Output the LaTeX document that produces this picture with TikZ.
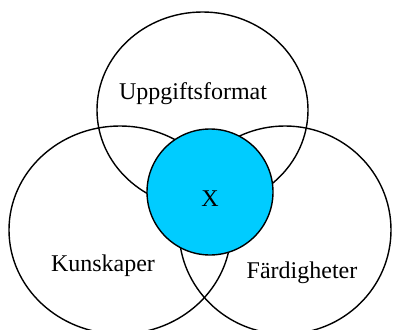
\documentclass[tikz,border=0pt]{standalone}
\usepackage{fontspec}
\setmainfont{Liberation Serif}
\usetikzlibrary{shapes.geometric, positioning}

\begin{document}
\begin{tikzpicture}[x=1pt, y=-1pt, font=\fontsize{24}{28}\selectfont,
    set/.style={draw, ellipse, line width=1.4pt, inner sep=0pt},
    core/.style={draw, circle, line width=1.4pt, fill=kjerne, inner sep=0pt, minimum size=126pt},
    lbl/.style={anchor=base, inner sep=0pt}]
    \definecolor{kjerne}{RGB}{0,204,255}
    \useasboundingbox (0,0) rectangle (393,329);

    \node[set, minimum width=211pt, minimum height=196pt] (upp) at (202.5,110) {};
    \node[set, minimum width=222pt, minimum height=208pt] (kun) at (120,230) {};
    \node[set, minimum width=212pt, minimum height=208pt] (far) at (285,230) {};
    \node[core] (x) at (210,192) {};

    \node[lbl] (uppl) at (193,99) {Uppgiftsformat};
    \node[lbl] (kunl) at (103,271) {Kunskaper};
    \node[lbl] (farl) at (302,278) {Färdigheter};
    \node[lbl] (xl) at (210,206) {X};
\end{tikzpicture}
\end{document}
